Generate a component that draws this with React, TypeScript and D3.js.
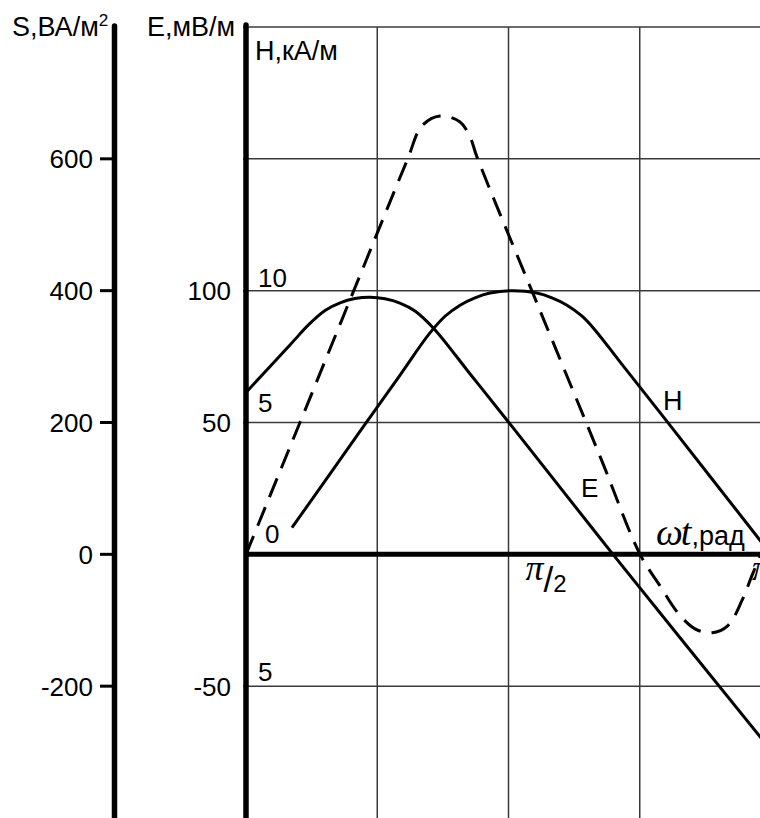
import React from "react";
import * as d3 from "d3";

// ωt (rad) and values
const omegaT_E = [0, 0.263, 0.378, 0.473, 0.563, 0.652, 0.742, 0.832, 0.921, 1.011, 1.126, 1.34, 1.568, 2.196, 3.142];
const E_values = [61.4, 79.4, 87.3, 92.5, 95.4, 97.0, 97.5, 96.9, 95.3, 92.3, 85.5, 68.5, 50.4, 0, -74.3];

const omegaT_H = [0.275, 0.682, 0.922, 1.096, 1.191, 1.281, 1.37, 1.46, 1.601, 1.741, 1.831, 1.921, 2.011, 2.087, 2.238, 2.519, 3.142];
const H_values = [1.01, 4.66, 6.8, 8.36, 9.03, 9.45, 9.73, 9.91, 10.0, 9.91, 9.73, 9.45, 9.03, 8.52, 7.3, 5.04, 0];

const omegaT_S = [0, 0.323, 0.64, 0.963, 1.053, 1.161, 1.281, 1.341, 1.382, 1.759, 2.118, 2.358, 2.478, 2.585, 2.687, 2.789, 2.884, 2.968, 3.028, 3.142];
const S_values = [0, 200, 397, 597, 650, 665, 656, 633, 603, 370, 149, 0, -48, -89, -113, -119, -108, -70, -32, 36];

const S_ticks = [-200, 0, 200, 400, 600];
const E_ticks = [-50, 50, 100];
const H_ticks = [-5, 0, 5, 10];
const H_tickLabels = ["5", "0", "5", "10"];
const E_gridValues = [-50, 50, 100, 150, 200];
const T_gridValues = [Math.PI / 4, Math.PI / 2, (3 * Math.PI) / 4, Math.PI];

const W = 760;
const H = 818;
const SANS = "'Liberation Sans', Arial, sans-serif";
const SERIF = "'Liberation Serif', 'Times New Roman', serif";
const H_LABEL_LIFT: Record<string, number> = { "-5": 5, "0": 11, "5": 11, "10": 4 };

export default function App() {
  const x = d3.scaleLinear().domain([0, Math.PI]).range([246, 771]);
  const yE = d3.scaleLinear().domain([-100, 200]).range([818, 27]);
  const yH = d3.scaleLinear().domain([-10, 20]).range([818, 27]);
  const yS = d3.scaleLinear().domain([-400, 800]).range([818, 27]);

  const lineGen = (ys: d3.ScaleLinear<number, number>) =>
    d3
      .line<[number, number]>()
      .x((d) => x(d[0]))
      .y((d) => ys(d[1]))
      .curve(d3.curveCatmullRom.alpha(0.5));

  const ePath = lineGen(yE)(omegaT_E.map((t, i) => [t, E_values[i]]));
  const hPath = lineGen(yH)(omegaT_H.map((t, i) => [t, H_values[i]]));
  const sPath = lineGen(yS)(omegaT_S.map((t, i) => [t, S_values[i]]));

  const sAxisX = 114.5;
  const eAxisX = x(0);
  const zeroY = yE(0);

  return (
    <svg
      width={W}
      height={H}
      style={{ position: "absolute", left: 0, top: 0, background: "#fff" }}
      fontFamily={SANS}
    >
      <rect x={0} y={0} width={W} height={H} fill="#fff" />
      {/* grid */}
      {E_gridValues.map((v) => (
        <line key={"h" + v} x1={eAxisX - 3} x2={x(Math.PI)} y1={yE(v)} y2={yE(v)} stroke="#3a3a3a" strokeWidth={1.5} />
      ))}
      {T_gridValues.map((t, i) => (
        <line key={"v" + i} x1={x(t)} x2={x(t)} y1={yE(200)} y2={H} stroke="#3a3a3a" strokeWidth={1.5} />
      ))}

      {/* curves */}
      <path d={ePath || ""} fill="none" stroke="#000" strokeWidth={3} />
      <path d={hPath || ""} fill="none" stroke="#000" strokeWidth={3} />
      <path d={sPath || ""} fill="none" stroke="#000" strokeWidth={3} strokeDasharray="20 11" />

      {/* zero axis */}
      <line x1={eAxisX} x2={x(Math.PI)} y1={zeroY} y2={zeroY} stroke="#000" strokeWidth={5} />

      {/* S axis */}
      <line x1={sAxisX} x2={sAxisX} y1={26} y2={H} stroke="#000" strokeWidth={5.5} strokeLinecap="round" />
      {S_ticks.map((v) => (
        <g key={"s" + v}>
          <line x1={100} x2={sAxisX} y1={yS(v)} y2={yS(v)} stroke="#000" strokeWidth={3} />
          <text x={93} y={yS(v)} dy="0.36em" textAnchor="end" fontSize={26}>
            {v}
          </text>
        </g>
      ))}

      {/* E axis */}
      <line x1={eAxisX} x2={eAxisX} y1={25} y2={H} stroke="#000" strokeWidth={5.5} strokeLinecap="round" />
      {E_ticks.map((v) => (
        <text key={"e" + v} x={231} y={yE(v)} dy="0.36em" textAnchor="end" fontSize={26}>
          {v}
        </text>
      ))}
      {H_ticks.map((v, i) => (
        <text key={"hl" + v} x={v === 0 ? 265 : 258} y={yH(v) - H_LABEL_LIFT[String(v)]} fontSize={26}>
          {H_tickLabels[i]}
        </text>
      ))}

      {/* axis titles */}
      <text x={12} y={36} fontSize={27}>
        S,ВА/м
        <tspan fontSize={17} dy={-10}>2</tspan>
      </text>
      <text x={147} y={36} fontSize={27}>
        Е,мВ/м
      </text>
      <text x={255} y={60} fontSize={27}>
        Н,кА/м
      </text>

      {/* curve labels */}
      <text x={663} y={410} fontSize={27}>Н</text>
      <text x={581} y={497} fontSize={26}>Е</text>

      {/* x axis labels */}
      <text x={656} y={545}>
        <tspan fontFamily={SERIF} fontStyle="italic" fontSize={38}>ω</tspan>
        <tspan fontFamily={SERIF} fontStyle="italic" fontSize={38} dx={-2}>t</tspan>
        <tspan fontSize={27}>,рад</tspan>
      </text>
      <text x={x(Math.PI / 2) + 17} y={580}>
        <tspan fontFamily={SERIF} fontStyle="italic" fontSize={36}>π</tspan>
        <tspan fontSize={35} dy={12}>/</tspan>
        <tspan fontSize={24}>2</tspan>
      </text>
      <text x={x(Math.PI) - 19} y={580}>
        <tspan fontFamily={SERIF} fontStyle="italic" fontSize={36}>π</tspan>
      </text>
    </svg>
  );
}
